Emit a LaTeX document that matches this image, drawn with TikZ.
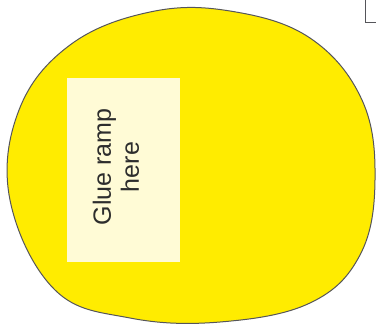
\documentclass[tikz,border=0pt]{standalone}
\usepackage{fontspec}
\setmainfont{Liberation Sans}
\definecolor{blobyellow}{RGB}{255,236,0}
\definecolor{paleyellow}{RGB}{255,251,214}
\definecolor{outlinegray}{RGB}{85,85,90}
\definecolor{textgray}{RGB}{45,45,45}
\begin{document}
\begin{tikzpicture}[x=1pt,y=-1pt,
  blob/.style={fill=blobyellow,draw=outlinegray,line width=1pt},
  gluebox/.style={fill=paleyellow,draw=none},
  boxline/.style={draw=outlinegray,line width=0.8pt}]
\useasboundingbox (0,0) rectangle (376,325);
\fill[white] (0,0) rectangle (376,325);
\draw[blob] plot[smooth cycle, tension=0.65] coordinates {
 (10,200) (19,110) (70,45) (150,12) (230,11) (310,38) (362,100)
 (375,180) (360,255) (310,303) (220,322) (130,318) (55,290)};
\node[gluebox,minimum width=113pt,minimum height=184pt,inner sep=0pt] (glue) at (123.5,170) {};
\node[rotate=90,align=center,text=textgray,font=\fontsize{25}{28}\selectfont,inner sep=0pt] (label) at (116,167) {Glue ramp\\here};
\coordinate (ctop) at (365,0);
\coordinate (ccorner) at (365,22);
\coordinate (cright) at (376,22);
\draw[boxline] (ctop) -- (ccorner) -- (cright);
\end{tikzpicture}
\end{document}
